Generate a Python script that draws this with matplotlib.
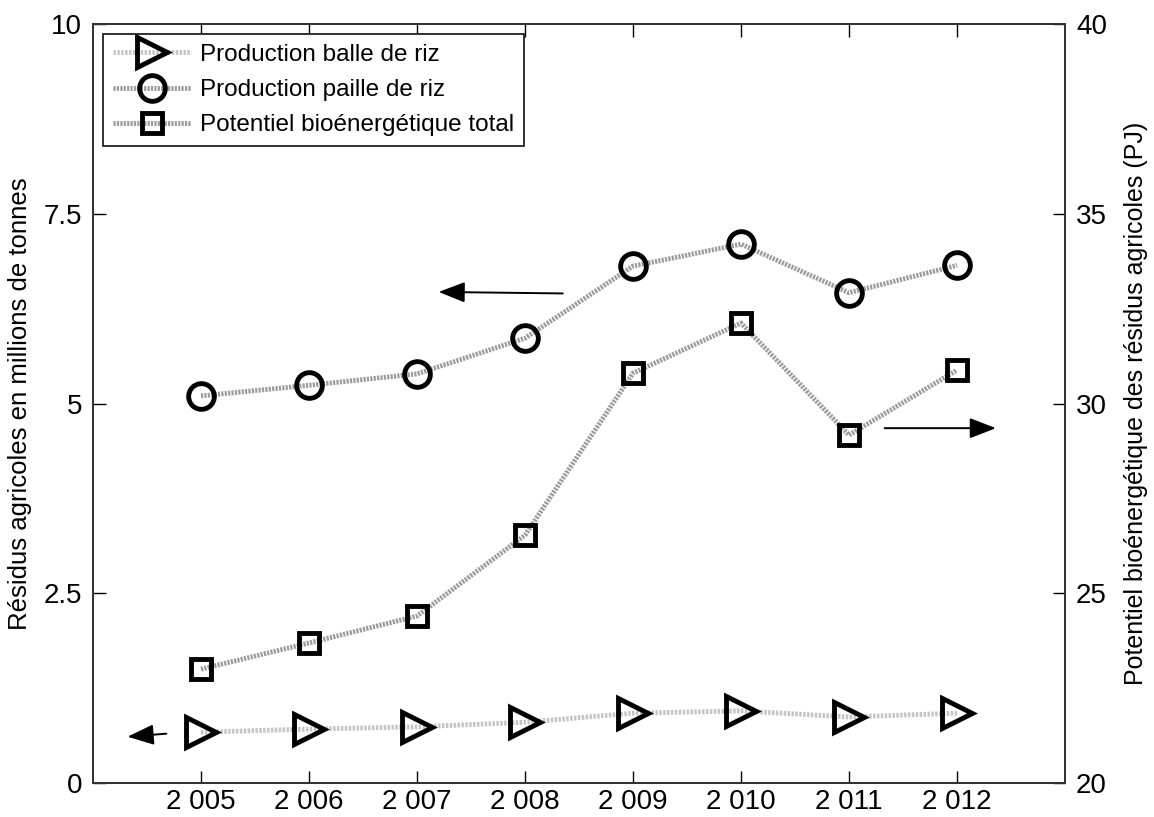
import matplotlib
matplotlib.use("Agg")
import matplotlib.pyplot as plt
from matplotlib.ticker import FuncFormatter

plt.rcParams['font.family'] = ['Liberation Sans', 'DejaVu Sans']

years = [2005, 2006, 2007, 2008, 2009, 2010, 2011, 2012]
balle = [0.67, 0.71, 0.74, 0.80, 0.92, 0.95, 0.87, 0.92]
paille = [5.10, 5.24, 5.39, 5.86, 6.81, 7.10, 6.46, 6.82]
potentiel = [23.0, 23.69, 24.40, 26.53, 30.80, 32.12, 29.17, 30.88]

left_ticks = [0, 2.5, 5, 7.5, 10]
left_labels = ['0', '2.5', '5', '7.5', '10']
right_ticks = [20, 25, 30, 35, 40]

fig = plt.figure(figsize=(11.54, 8.17), dpi=100)
ax = fig.add_axes([93/1154, 1 - 783/817, (1065-93)/1154, (783-24)/817])
ax2 = ax.twinx()

mk_kw = dict(markerfacecolor='none', markeredgecolor='black', markeredgewidth=3.5)

l1, = ax.plot(years, balle, marker='>', markersize=21, color='#c4c4c4', linewidth=3.5,
              linestyle=(0, (0.5, 0.3)), label='Production balle de riz', **mk_kw)
l2, = ax.plot(years, paille, marker='o', markersize=18.5, color='#9c9c9c', linewidth=3.5,
              linestyle=(0, (0.45, 0.25)), label='Production paille de riz', **mk_kw)
l3, = ax2.plot(years, potentiel, marker='s', markersize=15, color='#9c9c9c', linewidth=3.5,
               linestyle=(0, (0.45, 0.25)), label='Potentiel bioénergétique total', **mk_kw)

ax.set_xlim(2004, 2013)
ax.set_ylim(0, 10)
ax2.set_ylim(20, 40)
ax.set_xticks(years)
ax.xaxis.set_major_formatter(FuncFormatter(lambda v, p: f"{int(v) // 1000} {int(v) % 1000:03d}"))
ax.set_yticks(left_ticks)
ax.set_yticklabels(left_labels)
ax2.set_yticks(right_ticks)

for a in (ax, ax2):
    a.tick_params(direction='in', length=9, width=1, labelsize=20, pad=8)
    for s in a.spines.values():
        s.set_linewidth(1.3)
        s.set_color('#333333')
ax.tick_params(top=True, right=False)
ax.tick_params(axis='x', pad=4)

ax.set_ylabel('Résidus agricoles en millions de tonnes', fontsize=18.5, labelpad=8)
ax2.set_ylabel('Potentiel bioénergétique des résidus agricoles (PJ)', fontsize=18, labelpad=12)

leg = ax.legend(handles=[l1, l2, l3], loc='upper left', fontsize=17.5, frameon=True,
                fancybox=False, edgecolor='#222222', borderpad=0.4, labelspacing=0.55,
                handlelength=3.2, handletextpad=0.4, borderaxespad=0,
                bbox_to_anchor=(10/972, 1 - 10/759), framealpha=1)
leg.get_frame().set_linewidth(1.3)

arrow_kw = dict(arrowstyle='-|>,head_length=0.9,head_width=0.35', color='black', lw=1.4,
                mutation_scale=18, shrinkA=0, shrinkB=0)
ax.annotate('', xy=(2007.2, 6.47), xytext=(2008.35, 6.45), arrowprops=arrow_kw)
ax.annotate('', xy=(2004.32, 0.61), xytext=(2004.68, 0.65), arrowprops=arrow_kw)
ax2.annotate('', xy=(2012.36, 29.35), xytext=(2011.33, 29.35), arrowprops=arrow_kw)

fig.savefig('out.png', dpi=100)
